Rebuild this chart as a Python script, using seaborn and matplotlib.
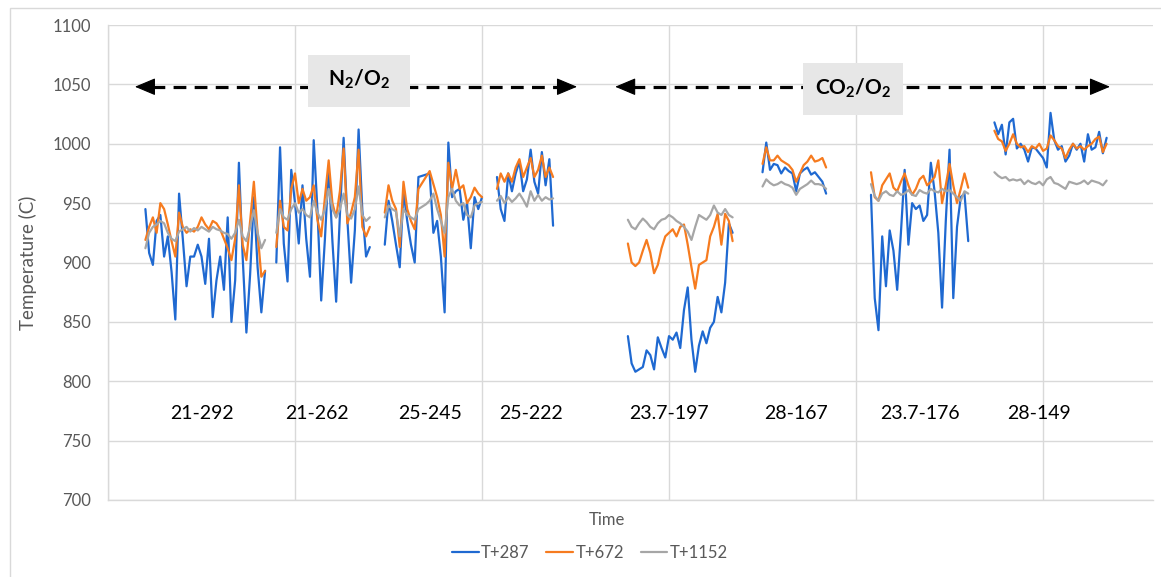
import matplotlib
matplotlib.use("Agg")
import matplotlib.pyplot as plt
import numpy as np
import pandas as pd
import seaborn as sns
from matplotlib.lines import Line2D
from matplotlib.patches import Rectangle

# ---------------------------------------------------------------- data
SERIES = ["T+287", "T+672", "T+1152"]
COLORS = ["#1f69d1", "#f67b1f", "#a6a6a6"]

RUN_LABELS = ["21-292", "21-262", "25-245", "25-222",
              "23.7-197", "28-167", "23.7-176", "28-149"]
RUN_START = [10, 45, 74, 104, 139, 175, 204, 237]   # sample index where each run begins
LABEL_X = [25, 56, 86, 113, 150, 184, 217, 249]

# run 1: 21-292
T287_1 = [945, 908, 898, 935, 940, 905, 922, 892, 852, 958, 920, 880, 905, 905, 915, 905, 882,
          920, 854, 885, 905, 877, 938, 850, 885, 984, 905, 841, 890, 955, 896, 858, 893]
T672_1 = [919, 930, 938, 925, 950, 945, 932, 918, 905, 942, 930, 925, 928, 926, 930, 938, 932,
          928, 935, 933, 928, 920, 912, 902, 920, 965, 915, 902, 935, 968, 925, 888, 893]
T1152_1 = [912, 925, 930, 932, 935, 933, 925, 920, 918, 926, 928, 930, 926, 929, 927, 930, 928,
           926, 930, 928, 927, 925, 924, 920, 925, 936, 922, 918, 930, 944, 925, 912, 919]
# run 2: 21-262
T287_2 = [900, 997, 916, 884, 978, 950, 916, 965, 920, 888, 1003, 944, 868, 920, 980, 918, 867,
          940, 1005, 936, 883, 927, 1012, 944, 905, 913]
T672_2 = [913, 952, 930, 927, 962, 975, 950, 962, 952, 955, 965, 936, 922, 955, 986, 950, 938,
          960, 996, 933, 942, 955, 995, 930, 922, 930]
T1152_2 = [925, 945, 938, 936, 945, 950, 942, 945, 940, 938, 952, 942, 936, 945, 962, 945, 938,
           945, 958, 940, 937, 945, 964, 940, 935, 938]
# run 3: 25-245
T287_3 = [915, 952, 935, 915, 896, 960, 935, 915, 900, 972, 973, 974, 975, 925, 935, 905, 858,
          1001, 955, 960, 962, 936, 950, 912, 955, 945, 955]
T672_3 = [942, 965, 952, 945, 913, 968, 945, 935, 928, 962, 967, 972, 977, 966, 955, 940, 905,
          984, 962, 978, 962, 965, 950, 955, 963, 958, 955]
T1152_3 = [938, 948, 945, 943, 922, 945, 940, 938, 936, 945, 947, 949, 952, 958, 945, 935, 925,
           955, 962, 952, 948, 950, 940, 938, 948, 950, 951]
# run 4: 25-222
T287_4 = [972, 945, 935, 975, 960, 975, 985, 960, 970, 995, 968, 958, 993, 965, 987, 931]
T672_4 = [962, 975, 968, 975, 968, 980, 987, 972, 980, 988, 972, 978, 990, 972, 980, 972]
T1152_4 = [952, 956, 950, 955, 951, 954, 958, 953, 947, 960, 952, 957, 952, 955, 953, 954]
# run 5: 23.7-197
T287_5 = [838, 815, 808, 810, 812, 826, 822, 810, 837, 828, 820, 838, 835, 841, 828, 860, 879,
          835, 808, 830, 842, 832, 845, 850, 871, 858, 883, 933, 925]
T672_5 = [916, 900, 897, 900, 910, 919, 908, 891, 898, 912, 922, 925, 928, 922, 930, 932, 915,
          896, 878, 898, 900, 902, 922, 930, 941, 915, 941, 935, 918]
T1152_5 = [936, 930, 928, 933, 937, 934, 930, 928, 933, 936, 937, 940, 938, 935, 933, 930, 926,
           919, 930, 940, 938, 936, 940, 948, 942, 940, 945, 940, 938]
# run 6: 28-167
T287_6 = [976, 1001, 978, 983, 982, 975, 980, 977, 975, 960, 975, 978, 980, 974, 976, 972, 968, 958]
T672_6 = [983, 997, 986, 986, 990, 986, 984, 982, 978, 968, 975, 982, 985, 990, 985, 986, 988, 980]
T1152_6 = [964, 970, 967, 965, 966, 968, 966, 965, 963, 957, 962, 964, 966, 969, 966, 966, 965, 962]
# run 7: 23.7-176
T287_7 = [957, 870, 843, 922, 880, 927, 910, 877, 925, 978, 915, 950, 945, 948, 935, 940, 984,
          960, 925, 862, 935, 995, 870, 930, 955, 958, 918]
T672_7 = [976, 955, 952, 965, 970, 975, 963, 960, 968, 975, 965, 957, 962, 970, 973, 965, 968,
          972, 986, 950, 965, 983, 965, 950, 962, 975, 963]
T1152_7 = [966, 956, 952, 958, 960, 957, 956, 960, 957, 958, 961, 957, 956, 961, 959, 958, 962,
           960, 959, 962, 960, 961, 958, 955, 952, 960, 958]
# run 8: 28-149
T287_8 = [1018, 1008, 1016, 991, 1018, 1021, 996, 1000, 995, 985, 997, 996, 992, 988, 980, 1026,
          1003, 995, 998, 985, 990, 1000, 995, 1000, 985, 1008, 995, 997, 1010, 992, 1005]
T672_8 = [1011, 1004, 1002, 994, 1000, 1008, 1000, 997, 998, 993, 998, 996, 1000, 994, 996, 1007,
          1003, 998, 996, 988, 995, 1000, 996, 998, 995, 998, 1000, 1004, 1006, 993, 1000]
T1152_8 = [976, 973, 971, 972, 969, 970, 969, 970, 966, 969, 967, 966, 968, 965, 970, 972, 967,
           966, 964, 962, 968, 967, 966, 967, 969, 966, 969, 968, 967, 965, 969]

T287 = [T287_1, T287_2, T287_3, T287_4, T287_5, T287_6, T287_7, T287_8]
T672 = [T672_1, T672_2, T672_3, T672_4, T672_5, T672_6, T672_7, T672_8]
T1152 = [T1152_1, T1152_2, T1152_3, T1152_4, T1152_5, T1152_6, T1152_7, T1152_8]

# long-form table: one row per sample, runs kept apart so lines break between them
rows = []
for name, runs in zip(SERIES, [T287, T672, T1152]):
    for k, vals in enumerate(runs):
        for j, v in enumerate(vals):
            rows.append((name, k, RUN_START[k] + j, v))
df = pd.DataFrame(rows, columns=["series", "run", "sample", "temp"])

# ---------------------------------------------------------------- style
sns.set_style("white")
plt.rcParams["font.family"] = ["Lato", "DejaVu Sans"]
plt.rcParams["mathtext.fontset"] = "custom"
plt.rcParams["mathtext.rm"] = "Lato"
plt.rcParams["mathtext.bf"] = "Lato:bold"
plt.rcParams["mathtext.it"] = "Lato:italic"
plt.rcParams["lines.solid_joinstyle"] = "round"

TXT = "#595959"
GRID = "#d9d9d9"

fig = plt.figure(figsize=(11.61, 5.77), dpi=100)
ax = fig.add_axes([108 / 1161, 1 - 500 / 577, (1153 - 108) / 1161, (500 - 25) / 577])

sns.lineplot(data=df, x="sample", y="temp", hue="series", units="run",
             estimator=None, sort=False, palette=dict(zip(SERIES, COLORS)),
             hue_order=SERIES, lw=1.6, legend=False, ax=ax, zorder=3)

ax.set_xlim(0, 279.4)
ax.set_ylim(700, 1100)
ax.set_yticks(np.arange(700, 1101, 50))
ax.set_xticks(np.arange(0, 251, 50))
ax.set_xticklabels([])
ax.grid(True, color=GRID, lw=1.0)
ax.tick_params(axis="y", length=0, pad=12, labelsize=12, labelcolor=TXT)
ax.tick_params(axis="x", length=0)
for side in ["top", "right"]:
    ax.spines[side].set_visible(False)
for side in ["left", "bottom"]:
    ax.spines[side].set_color(GRID)
    ax.spines[side].set_linewidth(1.0)

ax.set_xlabel("")
ax.set_ylabel("Temperature (C)", fontsize=13.5, color=TXT)
ax.yaxis.set_label_coords(-0.068, 0.5)
fig.text(607 / 1161, 1 - 520 / 577, "Time", ha="center", va="center", fontsize=12, color=TXT)

# run labels
for lab, x in zip(RUN_LABELS, LABEL_X):
    ax.text(x, 773, lab, ha="center", va="center", fontsize=14, color="black", zorder=4)

# gas-atmosphere spans: dashed double arrows with a shaded caption box
def span(x0, x1, y, box, caption):
    head = 4.6
    ax.plot([x0 + head, x1 - head], [y, y], color="black", lw=2.3,
            ls=(0, (4.0, 2.6)), zorder=4, solid_capstyle="butt")
    for tip, tail in [(x0, x0 + head), (x1, x1 - head)]:
        ax.annotate("", xy=(tip, y), xytext=(tail, y),
                    arrowprops=dict(arrowstyle="-|>,head_length=1.0,head_width=0.42",
                                    mutation_scale=13, color="black", lw=0.8,
                                    shrinkA=0, shrinkB=0), zorder=5)
    bx0, bx1, by0, by1 = box
    ax.add_patch(Rectangle((bx0, by0), bx1 - bx0, by1 - by0, facecolor="#e7e7e7",
                           edgecolor="none", zorder=6))
    ax.text((bx0 + bx1) / 2, (by0 + by1) / 2 + 1, caption, ha="center", va="center",
            fontsize=15, color="black", zorder=7)

span(7.2, 125.4, 1048, (53.5, 80.7, 1031, 1075), r"$\mathbf{N_2/O_2}$")
span(135.6, 267.9, 1048, (185.8, 212.6, 1024, 1068), r"$\mathbf{CO_2/O_2}$")

# legend
handles = [Line2D([], [], color=c, lw=1.6) for c in COLORS]
fig.legend(handles, SERIES, loc="center", bbox_to_anchor=(590 / 1161, 1 - 553 / 577),
           ncol=3, frameon=False, fontsize=12, handlelength=1.6, handletextpad=0.15,
           columnspacing=1.0, labelcolor=TXT)

# chart-area frame
fig.patches.append(Rectangle((9.5 / 1161, -0.05), 1.2, 1 - 7.5 / 577 + 0.05,
                             transform=fig.transFigure, fill=False, edgecolor=GRID, lw=1.0))

fig.savefig("out.png", dpi=100)
